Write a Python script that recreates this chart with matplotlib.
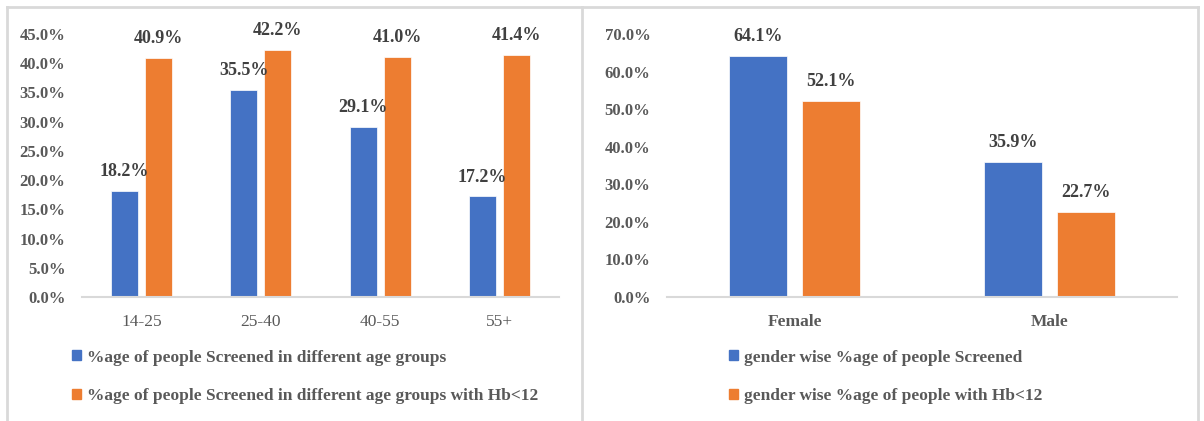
import numpy as np
import matplotlib
matplotlib.use('Agg')
import matplotlib.pyplot as plt
from matplotlib.lines import Line2D
from matplotlib.patches import Patch

plt.rcParams['font.family'] = ['Liberation Serif', 'DejaVu Serif']

age_groups = ['14-25', '25-40', '40-55', '55+']
age_screened = [18.2, 35.5, 29.1, 17.2]
age_hb = [40.9, 42.2, 41.0, 41.4]
age_labels = ['%age of people Screened in different age groups',
              '%age of people Screened in different age groups with Hb<12']

genders = ['Female', 'Male']
gender_screened = [64.1, 35.9]
gender_hb = [52.1, 22.7]
gender_labels = ['gender wise %age of people Screened',
                 'gender wise %age of people with Hb<12']

blue = '#4472C4'
orange = '#ED7D31'
tick_col = '#595959'
lab_col = '#404040'
grid_col = '#D9D9D9'

W, H = 1204, 421
fig = plt.figure(figsize=(W / 100, H / 100), dpi=100)


def panel(rect, cats, s1, s2, ymax, ystep, labels, xbold, legx):
    ax = fig.add_axes(rect)
    x = np.arange(len(cats))
    w = 0.225
    off = 0.1425
    b1 = ax.bar(x - off, s1, w, color=blue, edgecolor='white', linewidth=0.5)
    b2 = ax.bar(x + off, s2, w, color=orange, edgecolor='white', linewidth=0.5)
    for bars in (b1, b2):
        for b in bars:
            ax.annotate(f'{b.get_height():.1f}%',
                        (b.get_x() + b.get_width() / 2, b.get_height()),
                        xytext=(0, 14), textcoords='offset points',
                        ha='center', va='center', fontsize=13,
                        fontweight='bold', color=lab_col)
    ax.set_xlim(-0.5, len(cats) - 0.5)
    ax.set_ylim(0, ymax)
    yt = np.arange(0, ymax + 0.01, ystep)
    ax.set_yticks(yt)
    ax.set_yticklabels([f'{v:.1f}%' for v in yt], fontsize=12,
                       fontweight='bold', color=tick_col)
    ax.set_xticks(x)
    ax.set_xticklabels(cats, fontsize=12.5, color=tick_col,
                       fontweight='bold' if xbold else 'normal')
    ax.tick_params(axis='both', length=0)
    ax.tick_params(axis='y', pad=12)
    ax.tick_params(axis='x', pad=12)
    for s in ['top', 'right', 'left']:
        ax.spines[s].set_visible(False)
    ax.spines['bottom'].set_color(grid_col)
    ax.spines['bottom'].set_linewidth(1.5)
    handles = [Patch(color=blue), Patch(color=orange)]
    fig.legend(handles, labels, loc='center left',
               bbox_to_anchor=(legx, 0.105), frameon=False,
               prop={'size': 12.5, 'weight': 'bold'}, labelcolor=tick_col,
               handlelength=0.5, handleheight=0.5, handletextpad=0.35,
               labelspacing=1.3, borderpad=0, borderaxespad=0)
    return ax


panel([82 / W, 1 - 297 / H, 477 / W, 263 / H], age_groups, age_screened,
      age_hb, 45, 5, age_labels, False, 72 / W)
panel([667 / W, 1 - 297 / H, 510 / W, 263 / H], genders, gender_screened,
      gender_hb, 70, 10, gender_labels, True, 729 / W)

# panel borders
ytop = 1 - 7 / H
for xs, ys in [((7 / W, 1198 / W), (ytop, ytop)),
               ((7 / W, 7 / W), (0, ytop)),
               ((582 / W, 582 / W), (0, ytop)),
               ((1198 / W, 1198 / W), (0, ytop))]:
    fig.add_artist(Line2D(xs, ys, transform=fig.transFigure,
                          color=grid_col, linewidth=2))

fig.savefig('out.png', dpi=100)
